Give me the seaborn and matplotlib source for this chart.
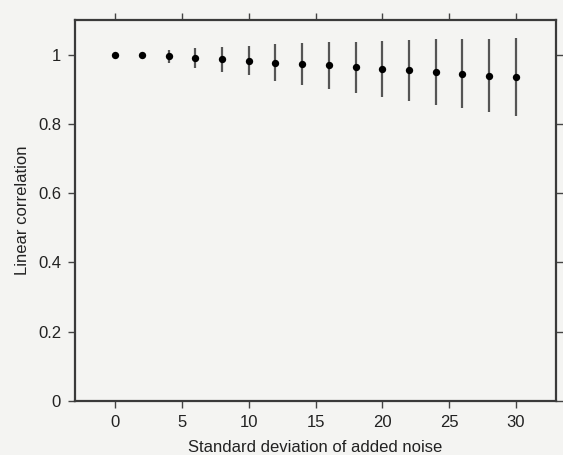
import matplotlib
matplotlib.use("Agg")
import matplotlib.pyplot as plt
import seaborn as sns
import pandas as pd

noise_sd = [0, 2, 4, 6, 8, 10, 12, 14, 16, 18, 20, 22, 24, 26, 28, 30]
mean_corr = [1.0, 0.999, 0.995, 0.990, 0.986, 0.983, 0.977, 0.973, 0.969,
             0.963, 0.958, 0.955, 0.950, 0.945, 0.939, 0.935]
std_corr = [0.0, 0.002, 0.018, 0.028, 0.037, 0.043, 0.053, 0.061, 0.068,
            0.074, 0.080, 0.088, 0.095, 0.100, 0.106, 0.113]
x_ticks = [0, 5, 10, 15, 20, 25, 30]
y_ticks = [0, 0.2, 0.4, 0.6, 0.8, 1.0]
y_tick_labels = ["0", "0.2", "0.4", "0.6", "0.8", "1"]

df = pd.DataFrame({"sd": noise_sd, "corr": mean_corr, "err": std_corr})

sns.set_style("white")
plt.rcParams["font.family"] = ["Liberation Sans", "DejaVu Sans"]

fig = plt.figure(figsize=(5.63, 4.55), dpi=100, facecolor="#f4f4f2")
ax = fig.add_axes([75 / 563, 1 - 401 / 455, (556 - 75) / 563, (401 - 20) / 455])
ax.set_facecolor("#f4f4f2")

ax.errorbar(df["sd"], df["corr"], yerr=df["err"], fmt="none",
            ecolor="#555555", elinewidth=1.6, capsize=0, zorder=2)
sns.scatterplot(data=df, x="sd", y="corr", ax=ax, color="black", s=28,
                edgecolor="black", linewidth=0, zorder=3)

ax.set_xlim(-3, 33)
ax.set_ylim(0, 1.1)
ax.set_xticks(x_ticks)
ax.set_xticklabels([str(t) for t in x_ticks])
ax.set_yticks(y_ticks)
ax.set_yticklabels(y_tick_labels)
ax.tick_params(axis="both", which="major", direction="out", length=5,
               width=1, color="#444444", labelsize=12, labelcolor="#222222",
               top=True, right=True, bottom=True, left=True, pad=5)
ax.set_xlabel("Standard deviation of added noise", fontsize=12, color="#222222", labelpad=7)
ax.set_ylabel("Linear correlation", fontsize=12, color="#222222", labelpad=6)
for sp in ax.spines.values():
    sp.set_visible(True)
    sp.set_color("#3a3a3a")
    sp.set_linewidth(1.6)

fig.savefig("out.png", dpi=100, facecolor=fig.get_facecolor())
